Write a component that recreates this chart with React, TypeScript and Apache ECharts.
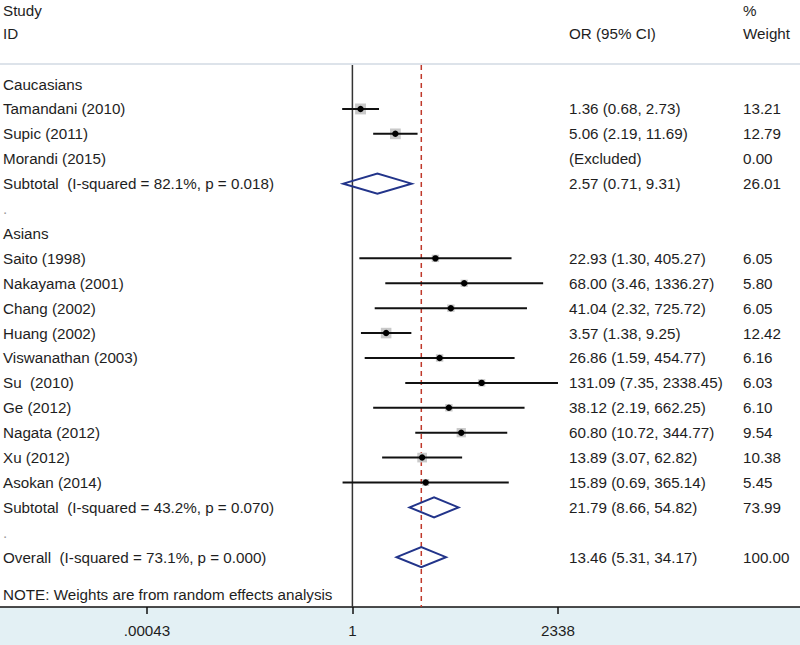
import React, { useEffect, useRef } from "react";
import * as echarts from "echarts";

const caucasianStudies = ["Tamandani (2010)", "Supic (2011)", "Morandi (2015)"];
const caucasianOR: (number | null)[] = [1.36, 5.06, null];
const caucasianLower: (number | null)[] = [0.68, 2.19, null];
const caucasianUpper: (number | null)[] = [2.73, 11.69, null];
const caucasianWeight = [13.21, 12.79, 0.0];

const asianStudies = [
  "Saito (1998)",
  "Nakayama (2001)",
  "Chang (2002)",
  "Huang (2002)",
  "Viswanathan (2003)",
  "Su  (2010)",
  "Ge (2012)",
  "Nagata (2012)",
  "Xu (2012)",
  "Asokan (2014)",
];
const asianOR: (number | null)[] = [22.93, 68.0, 41.04, 3.57, 26.86, 131.09, 38.12, 60.8, 13.89, 15.89];
const asianLower: (number | null)[] = [1.3, 3.46, 2.32, 1.38, 1.59, 7.35, 2.19, 10.72, 3.07, 0.69];
const asianUpper: (number | null)[] = [405.27, 1336.27, 725.72, 9.25, 454.77, 2338.45, 662.25, 344.77, 62.82, 365.14];
const asianWeight = [6.05, 5.8, 6.05, 12.42, 6.16, 6.03, 6.1, 9.54, 10.38, 5.45];

const groupNames = ["Caucasians", "Asians"];
const summaryLabels = [
  "Subtotal  (I-squared = 82.1%, p = 0.018)",
  "Subtotal  (I-squared = 43.2%, p = 0.070)",
  "Overall  (I-squared = 73.1%, p = 0.000)",
];
const summaryOR = [2.57, 21.79, 13.46];
const summaryLower = [0.71, 8.66, 5.31];
const summaryUpper = [9.31, 54.82, 34.17];
const summaryWeight = [26.01, 73.99, 100.0];

const noteText = "NOTE: Weights are from random effects analysis";
const tickValues = [0.00043, 1, 2338];
const tickLabels = [".00043", "1", "2338"];

type Row = {
  kind: "group" | "study" | "summary" | "blank" | "note";
  label: string;
  or: number | null;
  lo: number | null;
  hi: number | null;
  w: number | null;
  pos: number;
};

function buildRows(): Row[] {
  const rows: Row[] = [];
  let p = 0;
  const add = (r: Omit<Row, "pos">) => {
    rows.push({ ...r, pos: p });
    p += 1;
  };
  const groups = [
    { names: caucasianStudies, or: caucasianOR, lo: caucasianLower, hi: caucasianUpper, w: caucasianWeight },
    { names: asianStudies, or: asianOR, lo: asianLower, hi: asianUpper, w: asianWeight },
  ];
  groups.forEach((g, gi) => {
    add({ kind: "group", label: groupNames[gi], or: null, lo: null, hi: null, w: null });
    g.names.forEach((n, i) =>
      add({ kind: "study", label: n, or: g.or[i], lo: g.lo[i], hi: g.hi[i], w: g.w[i] })
    );
    add({ kind: "summary", label: summaryLabels[gi], or: summaryOR[gi], lo: summaryLower[gi], hi: summaryUpper[gi], w: summaryWeight[gi] });
    add({ kind: "blank", label: ".", or: null, lo: null, hi: null, w: null });
  });
  add({ kind: "summary", label: summaryLabels[2], or: summaryOR[2], lo: summaryLower[2], hi: summaryUpper[2], w: summaryWeight[2] });
  rows.push({ kind: "note", label: noteText, or: null, lo: null, hi: null, w: null, pos: p + 0.5 });
  return rows;
}

const rows = buildRows();
const FONT = "15.2px 'Liberation Sans', Arial, Helvetica, sans-serif";
const TXT = "#1e1e1e";
const L10 = (v: number) => Math.log10(v);

export default function App() {
  const ref = useRef<HTMLDivElement>(null);
  useEffect(() => {
    if (!ref.current) return;
    const chart = echarts.init(ref.current, undefined, { renderer: "svg" });
    const fmt = (v: number) => v.toFixed(2);

    const text = (x: number, y: number, t: string, fill = TXT) => ({
      type: "text",
      style: { x, y, text: t, font: FONT, fill, align: "left", verticalAlign: "middle" },
    });

    const renderRow = (params: any, api: any) => {
      const r = rows[params.dataIndex];
      const [, y] = api.coord([0, r.pos]);
      const children: any[] = [];
      children.push(text(3, y, r.label, r.kind === "blank" ? "#9a9a9a" : TXT));
      if (r.kind === "study") {
        if (r.or != null && r.lo != null && r.hi != null) {
          const [x0] = api.coord([L10(r.lo), r.pos]);
          const [x1] = api.coord([L10(r.hi), r.pos]);
          const [xc] = api.coord([L10(r.or), r.pos]);
          const s = 3.0 * Math.sqrt(r.w || 0);
          children.push({
            type: "rect",
            shape: { x: xc - s / 2, y: y - s / 2, width: s, height: s },
            style: { fill: "#c9c9c9" },
          });
          children.push({
            type: "line",
            shape: { x1: x0, y1: y, x2: x1, y2: y },
            style: { stroke: "#111", lineWidth: 2 },
          });
          children.push({ type: "circle", shape: { cx: xc, cy: y, r: 3.2 }, style: { fill: "#000" } });
          children.push(text(569, y, `${fmt(r.or)} (${fmt(r.lo)}, ${fmt(r.hi)})`));
        } else {
          children.push(text(569, y, "(Excluded)"));
        }
        children.push(text(743, y, fmt(r.w || 0)));
      } else if (r.kind === "summary" && r.or != null && r.lo != null && r.hi != null) {
        const [x0] = api.coord([L10(r.lo), r.pos]);
        const [x1] = api.coord([L10(r.hi), r.pos]);
        const [xc] = api.coord([L10(r.or), r.pos]);
        const h = 10;
        children.push({
          type: "polygon",
          shape: { points: [[x0, y], [xc, y - h], [x1, y], [xc, y + h]] },
          style: { fill: "none", stroke: "#22348a", lineWidth: 2 },
        });
        children.push(text(569, y, `${fmt(r.or)} (${fmt(r.lo)}, ${fmt(r.hi)})`));
        children.push(text(743, y, fmt(r.w || 0)));
      }
      return { type: "group", children };
    };

    const refLines = [0, L10(summaryOR[2])];
    const lineTop = -0.76;
    const lineBottom = 21;

    chart.setOption({
      animation: false,
      grid: { left: 0, right: 0, top: 0, bottom: 38, containLabel: false },
      xAxis: {
        type: "value",
        position: "bottom",
        min: -5.775,
        max: 7.335,
        splitLine: { show: false },
        axisLine: { show: true, onZero: false, lineStyle: { color: "#111", width: 1.5 } },
        axisTick: {
          show: true,
          inside: false,
          customValues: tickValues.map(L10),
          length: 7,
          lineStyle: { color: "#111", width: 1.5 },
        },
        axisLabel: {
          customValues: tickValues.map(L10),
          margin: 16,
          fontSize: 15.2,
          fontFamily: "'Liberation Sans', Arial, sans-serif",
          color: TXT,
          formatter: (v: number) => {
            const i = tickValues.findIndex((t) => Math.abs(L10(t) - v) < 1e-6);
            return i >= 0 ? tickLabels[i] : "";
          },
        },
      },
      yAxis: { type: "value", inverse: true, min: -3.375, max: 21, show: false },
      graphic: [
        { type: "rect", z: -10, shape: { x: 0, y: 607, width: 800, height: 38 }, style: { fill: "#e3f0f4" } },
        { type: "line", shape: { x1: 0, y1: 64, x2: 800, y2: 64 }, style: { stroke: "#dde3ea", lineWidth: 2 } },
        { type: "text", style: { x: 3, y: 10, text: "Study", font: FONT, fill: TXT, verticalAlign: "middle" } },
        { type: "text", style: { x: 3, y: 33, text: "ID", font: FONT, fill: TXT, verticalAlign: "middle" } },
        { type: "text", style: { x: 569, y: 33, text: "OR (95% CI)", font: FONT, fill: TXT, verticalAlign: "middle" } },
        { type: "text", style: { x: 743, y: 10, text: "%", font: FONT, fill: TXT, verticalAlign: "middle" } },
        { type: "text", style: { x: 743, y: 33, text: "Weight", font: FONT, fill: TXT, verticalAlign: "middle" } },
      ],
      series: [
        {
          type: "custom",
          clip: false,
          z: 1,
          data: refLines.map((v, i) => [v, i]),
          encode: { x: 0 },
          renderItem: (params: any, api: any) => {
            const v = refLines[params.dataIndex];
            const [x, y0] = api.coord([v, lineTop]);
            const [, y1] = api.coord([v, lineBottom]);
            const dashed = params.dataIndex === 1;
            return {
              type: "line",
              shape: { x1: x, y1: y0, x2: x, y2: y1 },
              style: dashed
                ? { stroke: "#c0392b", lineWidth: 1.5, lineDash: [5, 4] }
                : { stroke: "#333", lineWidth: 1.5 },
            };
          },
        },
        {
          type: "custom",
          clip: false,
          z: 2,
          data: rows.map((r) => [0, r.pos]),
          encode: { x: 0, y: 1 },
          renderItem: renderRow,
        },
      ],
    });
    return () => chart.dispose();
  }, []);
  return <div ref={ref} style={{ position: "absolute", left: 0, top: 0, width: 800, height: 645 }} />;
}
